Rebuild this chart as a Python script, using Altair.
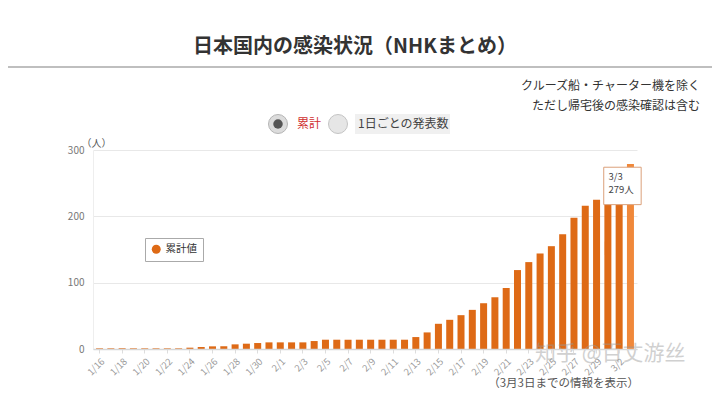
import altair as alt
import pandas as pd

FONT = "Noto Sans CJK JP"

dates = [
    "1/16", "1/17", "1/18", "1/19", "1/20", "1/21", "1/22", "1/23",
    "1/24", "1/25", "1/26", "1/27", "1/28", "1/29", "1/30", "1/31",
    "2/1", "2/2", "2/3", "2/4", "2/5", "2/6", "2/7", "2/8", "2/9", "2/10",
    "2/11", "2/12", "2/13", "2/14", "2/15", "2/16", "2/17", "2/18", "2/19",
    "2/20", "2/21", "2/22", "2/23", "2/24", "2/25", "2/26", "2/27", "2/28",
    "2/29", "3/1", "3/2", "3/3",
]
cumulative = [
    1, 1, 1, 1, 1, 1, 1, 1,
    2, 3, 4, 4, 7, 8, 9, 10,
    10, 10, 10, 12, 14, 14, 14, 14, 14, 14,
    14, 14, 18, 25, 38, 44, 51, 59, 69,
    78, 92, 119, 131, 144, 155, 173, 198, 216,
    225, 239, 256, 279,
]
tick_labels = [
    "1/16", "1/18", "1/20", "1/22", "1/24", "1/26", "1/28", "1/30",
    "2/1", "2/3", "2/5", "2/7", "2/9", "2/11", "2/13", "2/15", "2/17",
    "2/19", "2/21", "2/23", "2/25", "2/27", "2/29", "3/2",
]
y_ticks = [0, 100, 200, 300]
series_name = "累計値"
highlight_date = "3/3"
highlight_text = ["3/3", "279人"]

df = pd.DataFrame({"date": dates, "count": cumulative, "series": [series_name] * len(dates)})
one = pd.DataFrame({"a": [0]})

x_enc = alt.X(
    "date:N", sort=dates,
    scale=alt.Scale(paddingInner=0.38, paddingOuter=0.27),
    axis=alt.Axis(
        title=None, values=tick_labels, labelAngle=-45, labelFontSize=9.5,
        labelColor="#999", labelFont=FONT, tickColor="#ddd", tickSize=4,
        domainColor="#d6d6d6", domainWidth=1.5, labelPadding=3, grid=False,
        zindex=1,
    ),
)
y_enc = alt.Y(
    "count:Q",
    scale=alt.Scale(domain=[0, 300], nice=False),
    axis=alt.Axis(
        title="（人）", titleAngle=0, titleX=-12, titleY=-2, titleAlign="left",
        titleBaseline="bottom", titleFontSize=10, titleFontWeight="normal",
        titleColor="#555", titleFont=FONT, values=y_ticks, labelFontSize=10,
        labelColor="#777", labelFont=FONT, labelPadding=9, ticks=False,
        domainColor="#eeeeee", gridColor="#e8e8e8",
    ),
)

bars = alt.Chart(df).mark_bar().encode(
    x=x_enc,
    y=y_enc,
    color=alt.condition(
        alt.datum.date == highlight_date,
        alt.value("#f0883a"),
        alt.Color(
            "series:N",
            scale=alt.Scale(range=["#de6a16"]),
            legend=alt.Legend(
                title=None, orient="none", legendX=52, legendY=88,
                strokeColor="#aaa", fillColor="white", padding=6,
                symbolType="circle", symbolSize=80, symbolStrokeWidth=0,
                labelFontSize=10.5, labelColor="#333", labelFont=FONT,
            ),
        ),
    ),
)

hl = alt.Chart(df).transform_filter(alt.datum.date == highlight_date)
box = hl.mark_point(
    shape="square", size=1400, filled=True, fill="white", stroke="#dba07a",
    strokeWidth=1, opacity=1, xOffset=-8, yOffset=22,
).encode(x=alt.X("date:N", sort=dates), y="count:Q")
tip1 = hl.mark_text(
    text=highlight_text[0], font=FONT, fontSize=9.5, color="#444",
    align="left", baseline="middle", dx=-22, dy=13,
).encode(x=alt.X("date:N", sort=dates), y="count:Q")
tip2 = hl.mark_text(
    text=highlight_text[1], font=FONT, fontSize=9.5, color="#444",
    align="left", baseline="middle", dx=-22, dy=26,
).encode(x=alt.X("date:N", sort=dates), y="count:Q")

base = alt.Chart(one)
title = base.mark_text(
    text="日本国内の感染状況（NHKまとめ）", font=FONT, fontSize=20,
    fontWeight="bold", color="#333", align="center", baseline="middle",
).encode(x=alt.value(262), y=alt.value(-103))
hr = base.mark_rule(color="#808080", strokeWidth=1.2).encode(
    x=alt.value(-85), x2=alt.value(619), y=alt.value(-83))
note1 = base.mark_text(
    text="クルーズ船・チャーター機を除く", font=FONT, fontSize=12, color="#333",
    align="right", baseline="middle",
).encode(x=alt.value(607), y=alt.value(-64))
note2 = base.mark_text(
    text="ただし帰宅後の感染確認は含む", font=FONT, fontSize=12, color="#333",
    align="right", baseline="middle",
).encode(x=alt.value(607), y=alt.value(-44))

r1o = base.mark_point(shape="circle", size=361, filled=True, fill="#dcdcdc",
                      stroke="#b5b5b5", strokeWidth=1, opacity=1).encode(
    x=alt.value(185), y=alt.value(-26))
r1i = base.mark_point(shape="circle", size=90, filled=True, fill="#555",
                      opacity=1).encode(x=alt.value(185), y=alt.value(-26))
r1t = base.mark_text(text="累計", font=FONT, fontSize=12, color="#d03030",
                     align="left", baseline="middle").encode(
    x=alt.value(204), y=alt.value(-26))
r2o = base.mark_point(shape="circle", size=361, filled=True, fill="#e6e6e6",
                      stroke="#c4c4c4", strokeWidth=1, opacity=1).encode(
    x=alt.value(245), y=alt.value(-26))
r2bg = base.mark_rect(color="#f0f0f0").encode(
    x=alt.value(262), x2=alt.value(357), y=alt.value(-36), y2=alt.value(-16))
r2t = base.mark_text(text="1日ごとの発表数", font=FONT, fontSize=12, color="#444",
                     align="left", baseline="middle").encode(
    x=alt.value(265), y=alt.value(-26))

footer = base.mark_text(
    text="（3月3日までの情報を表示）", font=FONT, fontSize=11.5, color="#555",
    align="right", baseline="middle",
).encode(x=alt.value(546), y=alt.value(234))
watermark = base.mark_text(
    text="知乎 @百丈游丝", font=FONT, fontSize=21, color="#999", opacity=0.45,
    align="left", baseline="middle",
).encode(x=alt.value(442), y=alt.value(204))

chart = alt.layer(
    bars, box, tip1, tip2, title, hr, note1, note2,
    r2bg, r1o, r1i, r1t, r2o, r2t, footer, watermark,
).properties(
    width=544, height=199,
    padding={"left": 85, "top": 142, "right": 75, "bottom": 40},
    autosize=alt.AutoSizeParams(type="none"),
    background="white",
).configure_view(stroke=None)

chart.save("out.html", embed_options={"renderer": "svg", "actions": False})
